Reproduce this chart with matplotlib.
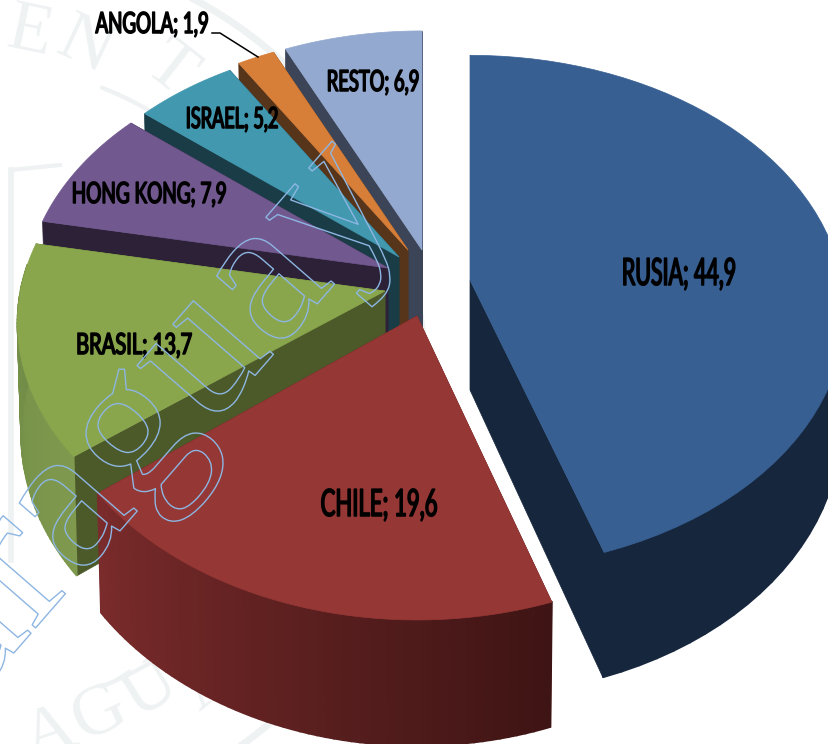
import numpy as np
import matplotlib
matplotlib.use("Agg")
import matplotlib.pyplot as plt
import matplotlib.patheffects as pe
from matplotlib.transforms import Affine2D

# data
paises = ["RUSIA", "CHILE", "BRASIL", "HONG KONG", "ISRAEL", "ANGOLA", "RESTO"]
valores = [44.9, 19.6, 13.7, 7.9, 5.2, 1.9, 6.9]
etiquetas = ["RUSIA; 44,9", "CHILE; 19,6", "BRASIL; 13,7", "HONG KONG; 7,9",
             "ISRAEL; 5,2", "ANGOLA; 1,9", "RESTO; 6,9"]

# styles and layout, one entry per slice
col_top = ["#375f92", "#953735", "#8aa64d", "#71588f", "#4198af", "#d77f39", "#93a9cf"]
col_side = ["#16263c", "#5a1f1f", "#4c5a2a", "#2c2137", "#1a3c47", "#57351a", "#3c4457"]
col_wall_a = ["#16263c", "#3f1414", "#7f9a4e", "#2c2137", "#1a3c47", "#57351a", "#3c4457"]
col_wall_b = ["#16263c", "#7a2b2b", "#6f8a45", "#2c2137", "#1a3c47", "#57351a", "#3c4457"]
centros = [(470, 280), (417, 316), (385, 291), (388, 268), (399, 257), (408, 250), (422, 250)]
escala_x = [1.0, 1.005, 0.98, 0.97, 0.96, 0.96, 0.975]
escala_y = [1.0, 1.05, 0.98, 0.97, 0.96, 0.96, 0.975]
pos_label = [(679, 274), (379, 505), (134, 346), (149, 195), (232, 120), (152, 25), (373, 83)]
size_label = [27, 27, 21, 21, 21, 21, 21]
estrecho = [0.57, 0.59, 0.69, 0.65, 0.62, 0.64, 0.63]

A, B, K, DEPTH = 372.0, 253.0, 0.126, 110.0


class Estrecha(pe.AbstractPathEffect):
    "Squeezes a text sideways, no narrow Gill type font here"

    def __init__(self, factor, ancla):
        super().__init__()
        self.factor = factor
        self.ancla = ancla

    def draw_path(self, renderer, gc, tpath, affine, rgbFace=None):
        x0, y0 = self.ancla
        aff = affine + Affine2D().translate(-x0, 0).scale(self.factor, 1).translate(x0, 0)
        gc2 = renderer.new_gc()
        gc2.copy_properties(gc)
        gc2.set_linewidth(1.1)
        gc2.set_foreground("black")
        renderer.draw_path(gc2, tpath, aff, rgbFace)
        gc2.restore()


def proyecta(cx, cy, theta, fx, fy):
    # theta clockwise from north, simple perspective on the disc
    y = np.cos(theta)
    s = 1 / (1 + K * y)
    return cx + fx * A * np.sin(theta) * s, cy - fy * B * y * s, s


def color_mix(c1, c2, t):
    a = np.array(matplotlib.colors.to_rgb(c1))
    b = np.array(matplotlib.colors.to_rgb(c2))
    return tuple(a + (b - a) * t)


fig = plt.figure(figsize=(8.29, 7.44), dpi=100)
ax = fig.add_axes([0, 0, 1, 1])
ax.set_xlim(0, 829)
ax.set_ylim(744, 0)
ax.axis("off")

# seal in the background
gris = "#eef2f2"
cs, ys, rs_in, rs_out = -14, 387, 321, 440
t = np.linspace(-1.2, 1.2, 200)
ax.plot(cs + rs_in * np.cos(t), ys + rs_in * np.sin(t), color=gris, lw=3, zorder=1)
ax.plot(cs + rs_out * np.cos(t), ys + rs_out * np.sin(t), color=gris, lw=5, zorder=1)
ax.plot([11, 11], [170, 560], color=gris, lw=4, zorder=1)
ax.plot([11, 60], [170, 165], color=gris, lw=3, zorder=1)
for letra, x, y, rot in [("E", 30, 33, -12), ("N", 85, 47, -25), ("T", 170, 70, -38),
                         ("A", 50, 735, 18), ("G", 100, 715, 25), ("U", 150, 690, 32), ("A", 208, 682, 40)]:
    ax.text(x, y, letra, family="Liberation Serif", fontsize=52, color=gris,
            rotation=rot, ha="center", va="center", zorder=1)

# pie, back to front
fin = np.cumsum(valores) / np.sum(valores) * 2 * np.pi
ini = np.concatenate([[0], fin[:-1]])
orden = [6, 5, 4, 3, 2, 1, 0]
z = 2
for i in orden:
    cx, cy = centros[i]
    th = np.linspace(ini[i], fin[i], 60)
    xs, ys_, ss = proyecta(cx, cy, th, escala_x[i], escala_y[i])
    xb = cx + (xs - cx) * 0.99
    yb = ys_ + DEPTH * ss
    # flat cut faces
    for j in [0, -1]:
        ax.fill([cx, xs[j], xb[j], cx], [cy, ys_[j], yb[j], cy + DEPTH],
                color=col_side[i], lw=0.5, zorder=z)
    # outer wall in strips for the shading, the far side stays hidden
    for j in range(len(th) - 1):
        if np.cos(th[j]) > 0.1 and np.cos(th[j + 1]) > 0.1:
            continue
        c = color_mix(col_wall_a[i], col_wall_b[i], j / (len(th) - 2))
        ax.fill([xs[j], xs[j + 1], xb[j + 1], xb[j]], [ys_[j], ys_[j + 1], yb[j + 1], yb[j]],
                color=c, lw=1.2, zorder=z)
    # top face
    ax.fill(np.r_[cx, xs], np.r_[cy, ys_], color=col_top[i], lw=0.5, zorder=z + 1)
    z += 2

# labels
fig.canvas.draw()
for i in range(len(paises)):
    px = ax.transData.transform(pos_label[i])
    ax.text(pos_label[i][0], pos_label[i][1], etiquetas[i], family="Lato", fontsize=size_label[i],
            color="black", ha="center", va="center", zorder=40,
            path_effects=[Estrecha(estrecho[i], px)])

# leader for Angola
ax.plot([212, 220, 258], [33, 33, 57], color="black", lw=1.1, zorder=41)

# outlined watermark
ax.text(405, 203, "Paraguay", family="Liberation Serif", fontsize=150, color="none",
        rotation=49, rotation_mode="anchor", ha="right", va="baseline", zorder=50,
        path_effects=[pe.Stroke(linewidth=1.0, foreground="#8db6e2")])

fig.savefig("out.png", dpi=100)
